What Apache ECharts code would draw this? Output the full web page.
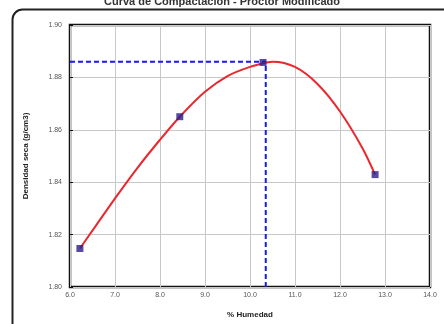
<!DOCTYPE html>
<html><head><meta charset="utf-8">
<script src="https://cdn.jsdelivr.net/npm/echarts@6/dist/echarts.min.js"></script>
<style>html,body{margin:0;padding:0;background:#fff}#c{width:444px;height:324px}</style>
</head><body><div id="c"></div>
<script>
// Data
var xTicks = ['6.0','7.0','8.0','9.0','10.0','11.0','12.0','13.0','14.0'];
var yTicks = ['1.80','1.82','1.84','1.86','1.88','1.90'];
var humedad = [6.22, 8.44, 10.29, 12.78];
var densidad = [1.8147, 1.8650, 1.8857, 1.8429];
var curveX = [6.22, 7.0, 7.5, 8.0, 8.44, 9.0, 9.5, 10.0, 10.4, 10.5, 11.0, 11.5, 12.0, 12.5, 12.78];
var curveY = [1.8147, 1.8338, 1.8455, 1.8562, 1.8650, 1.8745, 1.8805, 1.8840, 1.8858, 1.8860, 1.8840, 1.8775, 1.8670, 1.8530, 1.8429];
var optHumedad = 10.35;
var maxDensidad = 1.8860;

var chart = echarts.init(document.getElementById('c'));
function zip(a, b) { return a.map(function (v, i) { return [v, b[i]]; }); }
chart.setOption({
  animation: false,
  title: {
    text: 'Curva de Compactación - Proctor Modificado',
    left: 'center', top: -9,
    textStyle: { fontSize: 11, fontWeight: 'bold', color: '#333', fontFamily: 'Liberation Sans' }
  },
  graphic: [{
    type: 'rect', left: 10, top: 7, z: -1,
    shape: { width: 470, height: 350, r: 10 },
    style: { fill: 'none', stroke: '#222', lineWidth: 2 }
  }],
  grid: { left: 70, right: 14, top: 25, bottom: 33, show: true, borderColor: '#111', borderWidth: 2.5, containLabel: false },
  xAxis: {
    type: 'value', min: 6, max: 14, interval: 1,
    name: '% Humedad', nameLocation: 'middle', nameGap: 24,
    nameTextStyle: { fontSize: 8, fontWeight: 'bold', color: '#222', fontFamily: 'Liberation Sans' },
    axisLine: { show: false }, axisTick: { show: false },
    axisLabel: { fontSize: 7, color: '#555', margin: 5, formatter: function (v) { return xTicks[Math.round(v - 6)]; } },
    splitLine: { show: true, lineStyle: { color: '#c8c8c8', width: 1 } }
  },
  yAxis: {
    type: 'value', min: 1.80, max: 1.90, interval: 0.02,
    name: 'Densidad seca (g/cm3)', nameLocation: 'middle', nameGap: 40,
    nameTextStyle: { fontSize: 8, fontWeight: 'bold', color: '#222', fontFamily: 'Liberation Sans' },
    axisLine: { show: false }, axisTick: { show: true, inside: true, length: 3, lineStyle: { color: '#111' } },
    axisLabel: { fontSize: 7, color: '#555', margin: 8, formatter: function (v) { return yTicks[Math.round((v - 1.80) / 0.02)]; } },
    splitLine: { show: true, lineStyle: { color: '#c8c8c8', width: 1 } }
  },
  series: [
    {
      type: 'line', data: [[6, maxDensidad], [optHumedad, maxDensidad], [optHumedad, 1.80]],
      symbol: 'none', lineStyle: { color: '#1a1aee', width: 2, type: [5, 3] }, z: 2
    },
    {
      type: 'line', data: zip(curveX, curveY), smooth: 0.3, symbol: 'none',
      lineStyle: { color: '#e8282e', width: 2 }, z: 3
    },
    {
      type: 'scatter', data: zip(humedad, densidad), symbol: 'rect', symbolSize: 7,
      itemStyle: { color: '#2c1e8c' }, z: 4
    }
  ]
});
</script></body></html>
